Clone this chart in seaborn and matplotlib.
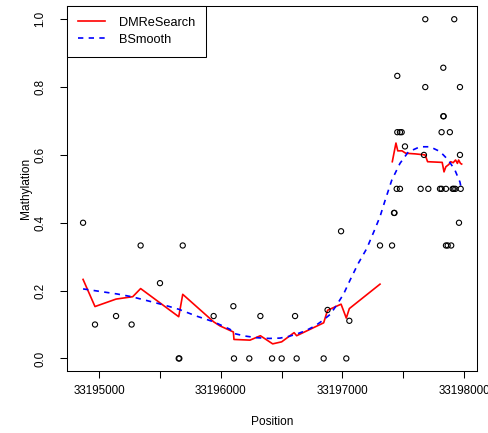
import numpy as np
import pandas as pd
import seaborn as sns
import matplotlib
matplotlib.use("Agg")
import matplotlib.pyplot as plt

plt.rcParams['font.family'] = ['Liberation Sans', 'DejaVu Sans']

base = 33195000

# Observed CpG methylation (open circles)
site_pos = [-131, -33, 140, 268, 342, 501, 655, 660, 688, 942,
            1104, 1109, 1235, 1326, 1422, 1501, 1611, 1624, 1846, 1878,
            1989, 2032, 2057, 2309, 2408, 2424, 2428, 2446, 2473, 2451,
            2451, 2473, 2487, 2514, 2643, 2706, 2670, 2681, 2681, 2802,
            2815, 2851, 2815, 2829, 2829, 2832, 2851, 2865, 2894, 2883,
            2906, 2915, 2928, 2972, 2919, 2958, 2966, 2966]
site_meth = [0.4, 0.1, 0.125, 0.1, 0.333, 0.222, 0.0, 0.0, 0.333, 0.125,
             0.154, 0.0, 0.0, 0.125, 0.0, 0.0, 0.125, 0.0, 0.0, 0.143,
             0.375, 0.0, 0.111, 0.333, 0.333, 0.429, 0.429, 0.5, 0.5, 0.833,
             0.667, 0.667, 0.667, 0.625, 0.5, 0.5, 0.6, 1.0, 0.8, 0.5,
             0.5, 0.5, 0.667, 0.857, 0.714, 0.714, 0.333, 0.333, 0.333, 0.667,
             0.5, 0.5, 0.5, 0.5, 1.0, 0.4, 0.8, 0.6]

# DMReSearch estimate (two pieces, gap in between)
dmr_pos_1 = [-131, -33, 140, 277, 342, 655, 688, 942, 994, 1104,
             1109, 1241, 1326, 1427, 1501, 1603, 1624, 1846, 1878, 1989,
             2032, 2057, 2309]
dmr_val_1 = [0.233, 0.153, 0.175, 0.182, 0.206, 0.123, 0.189, 0.108, 0.096, 0.078,
             0.056, 0.054, 0.067, 0.043, 0.049, 0.076, 0.067, 0.105, 0.142, 0.160,
             0.119, 0.147, 0.219]
dmr_pos_2 = [2410, 2440, 2455, 2490, 2520, 2600, 2680, 2700, 2820, 2835,
             2850, 2875, 2890, 2910, 2930, 2945, 2955, 2970, 2980]
dmr_val_2 = [0.58, 0.635, 0.612, 0.612, 0.605, 0.603, 0.600, 0.58, 0.578, 0.55,
             0.565, 0.572, 0.58, 0.577, 0.585, 0.575, 0.585, 0.575, 0.573]

# BSmooth estimate
bs_pos = [-131, 0, 150, 268, 400, 540, 655, 800, 942, 1076,
          1104, 1200, 1300, 1400, 1487, 1560, 1624, 1700, 1780, 1842,
          1900, 1952, 2010, 2063, 2130, 2200, 2260, 2309, 2350, 2405,
          2473, 2542, 2638, 2720, 2802, 2870, 2925, 2966, 2980]
bs_val = [0.205, 0.198, 0.19, 0.182, 0.17, 0.157, 0.145, 0.125, 0.108, 0.086,
          0.074, 0.066, 0.061, 0.059, 0.060, 0.065, 0.072, 0.082, 0.097, 0.113,
          0.13, 0.157, 0.19, 0.231, 0.28, 0.324, 0.375, 0.418, 0.465, 0.525,
          0.575, 0.609, 0.624, 0.624, 0.61, 0.585, 0.555, 0.52, 0.495]

pts = pd.DataFrame({'Position': np.array(site_pos) + base, 'Mathylation': site_meth})
dmr1 = pd.DataFrame({'Position': np.array(dmr_pos_1) + base, 'Mathylation': dmr_val_1})
dmr2 = pd.DataFrame({'Position': np.array(dmr_pos_2) + base, 'Mathylation': dmr_val_2})
bs = pd.DataFrame({'Position': np.array(bs_pos) + base, 'Mathylation': bs_val})

fig = plt.figure(figsize=(4.89, 4.33), dpi=100)
ax = fig.add_axes([67 / 489, 1 - 371 / 433, 410 / 489, 365 / 433])

sns.scatterplot(data=pts, x='Position', y='Mathylation', ax=ax, marker='o',
                facecolor='none', edgecolor='black', linewidth=0.8, s=14, zorder=3)
sns.lineplot(data=dmr1, x='Position', y='Mathylation', ax=ax, estimator=None,
             color='red', linewidth=1.2, label='DMReSearch')
sns.lineplot(data=dmr2, x='Position', y='Mathylation', ax=ax, estimator=None,
             color='red', linewidth=1.2)
sns.lineplot(data=bs, x='Position', y='Mathylation', ax=ax, estimator=None,
             color='blue', linewidth=1.2, dashes=False, label='BSmooth')
ax.lines[-1].set_dashes((3.2, 3.2))

ax.set_xlim(base - 263, base + 3106)
ax.set_ylim(-0.037, 1.039)

xt = np.arange(base, base + 3001, 500)
ax.set_xticks(xt)
ax.set_xticklabels([str(v) if (v - base) % 1000 == 0 else '' for v in xt])
yt = [0.0, 0.2, 0.4, 0.6, 0.8, 1.0]
ax.set_yticks(yt)
ax.set_yticklabels(['%.1f' % v for v in yt], rotation=90, va='center')

ax.tick_params(axis='both', direction='out', length=5, width=0.75,
               labelsize=8.4, color='black')
ax.tick_params(axis='x', pad=5)
ax.tick_params(axis='y', pad=10)
for s in ax.spines.values():
    s.set_visible(True)
    s.set_color('black')
    s.set_linewidth(0.75)

ax.set_xlabel('Position', fontsize=8.6)
ax.set_ylabel('Mathylation', fontsize=8.6)
ax.xaxis.set_label_coords(0.5, -0.123)
ax.yaxis.label.set_va('center')
ax.yaxis.set_label_coords(-0.1, 0.5)

leg = ax.legend(loc='upper left', borderaxespad=0, fancybox=False,
                edgecolor='black', framealpha=1, fontsize=9.2,
                handlelength=2.1, handletextpad=1.1, labelspacing=0.38,
                borderpad=0.85)
leg.get_frame().set_linewidth(0.75)

fig.savefig('out.png', dpi=100)
